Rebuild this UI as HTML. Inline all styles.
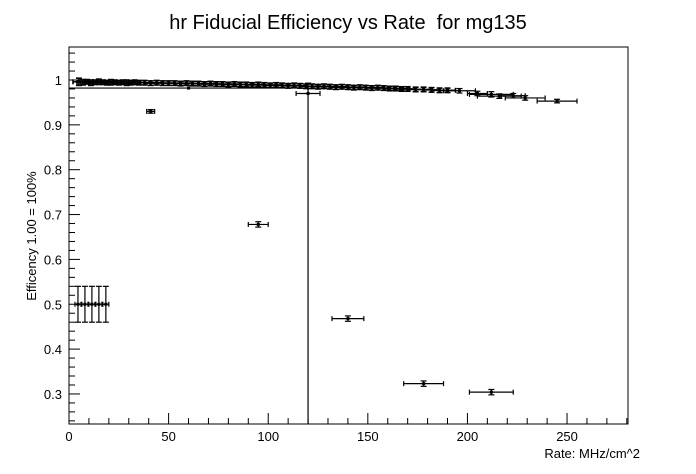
<!DOCTYPE html>
<html><head><meta charset="utf-8"><style>
body{margin:0;background:#fff;}
svg{display:block;font-family:"Liberation Sans",sans-serif;}
</style></head><body>
<svg id="c" width="696" height="474">
<rect x="0" y="0" width="696" height="474" fill="#fff"/>
<text x="348" y="29" text-anchor="middle" font-size="20" xml:space="preserve">hr Fiducial Efficiency vs Rate  for mg135</text>
<text x="640" y="458" text-anchor="end" font-size="13">Rate: MHz/cm^2</text>
<text transform="translate(36,236) rotate(-90)" text-anchor="middle" font-size="13">Efficency 1.00 = 100%</text>
<g id="axes"></g><g id="marks"></g>
</svg>
<script>
const xTicks=[0,50,100,150,200,250];
const yTicks=[0.3,0.4,0.5,0.6,0.7,0.8,0.9,1];
const yTickLabels=["0.3","0.4","0.5","0.6","0.7","0.8","0.9","1"];
const bandX=[5,7,9,11,13,15,17,19,21,23,25,27,29,31,33,35,38,41,44,47,50,53,56,59,62,65,68,71,74,77,80,83,86,89,92,95,98,101,104,107,110,113,116,119,122,125,128,131,134,137,140,143,146,149,152,155,158,161,164,167,170,174,178,182,186,190];
const bandY=[0.996,0.995,0.996,0.994,0.995,0.996,0.995,0.994,0.995,0.995,0.994,0.995,0.994,0.994,0.995,0.994,0.994,0.993,0.994,0.993,0.993,0.993,0.992,0.993,0.992,0.992,0.991,0.992,0.991,0.991,0.990,0.991,0.990,0.990,0.989,0.990,0.989,0.988,0.989,0.988,0.987,0.988,0.987,0.986,0.986,0.985,0.986,0.985,0.984,0.985,0.984,0.983,0.984,0.983,0.982,0.983,0.982,0.981,0.981,0.980,0.980,0.979,0.979,0.978,0.977,0.977];
const bandEx=[3,3,3,3,3,3,3,3,3,3,3,3,3,3,3,3,3,3,3,3,3,3,3,3,3,3,3,3,3,3,3,3,3,3,3,3,3,3,3,3,3,3,3,3,3,3,3,3,3,3,3,3,3,3,3,3,3,3,4,4,4,4,4,4,4,4];
const bandEy=[0.008,0.006,0.005,0.006,0.005,0.006,0.005,0.005,0.006,0.005,0.005,0.005,0.006,0.005,0.005,0.005,0.005,0.005,0.005,0.005,0.005,0.005,0.005,0.005,0.005,0.005,0.005,0.005,0.005,0.005,0.005,0.005,0.005,0.005,0.005,0.005,0.005,0.005,0.005,0.005,0.005,0.005,0.005,0.005,0.005,0.005,0.005,0.005,0.005,0.005,0.005,0.005,0.005,0.005,0.005,0.005,0.005,0.005,0.005,0.005,0.005,0.005,0.005,0.005,0.005,0.005];
const ptX=[196,205,212,216,223,229,245,41,95,120,140,178,212,60,4.5,8,11.5,15,18.5];
const ptY=[0.976,0.970,0.968,0.964,0.965,0.960,0.953,0.930,0.678,0.970,0.468,0.323,0.304,0.982,0.5,0.5,0.5,0.5,0.5];
const ptEx=[8,5,11,11,6,10,10,2,5,6,8,10,11,60,1.5,1.5,1.5,1.5,1.5];
const ptEyHi=[0.005,0.005,0.006,0.005,0.005,0.005,0.004,0.004,0.006,0.023,0.006,0.006,0.006,0,0.04,0.04,0.04,0.04,0.04];
const ptEyLo=[0.005,0.005,0.006,0.005,0.005,0.005,0.004,0.004,0.006,0.74,0.006,0.006,0.006,0,0.04,0.04,0.04,0.04,0.04];

const L=69,R=628,T=47,B=424,XMAX=280.6,YMIN=0.233,YMAX=1.0736;
const sx=v=>L+(v/XMAX)*(R-L);
const sy=v=>B-(v-YMIN)/(YMAX-YMIN)*(B-T);
const NS="http://www.w3.org/2000/svg";
function mk(p,tag,a){const e=document.createElementNS(NS,tag);for(const k in a)e.setAttribute(k,a[k]);p.appendChild(e);return e;}
const axes=document.getElementById('axes'),marks=document.getElementById('marks');
const frame=mk(axes,'rect',{x:L,y:T,width:R-L,height:B-T,fill:'none',stroke:'#000','stroke-width':1});


for(let v=0;v<=XMAX;v+=10){const big=v%50===0;const x=sx(v);
 const t=mk(axes,'line',{x1:x,x2:x,y1:B,y2:B-(big?11:6),stroke:'#000'});
 
 }
xTicks.forEach(v=>{const t=mk(axes,'text',{x:sx(v),y:B+17,'text-anchor':'middle','font-size':13});t.textContent=v;
 
 });
for(let i=3;i<=10;i++){for(let j=0;j<5;j++){const v=i/10+j*0.02;if(v<YMIN||v>YMAX)continue;const y=sy(v);
 const t=mk(axes,'line',{x1:L,x2:L+(j===0?11:6),y1:y,y2:y,stroke:'#000'});
 
 }}
[0.24,0.26,0.28].forEach(v=>{const y=sy(v);const t=mk(axes,'line',{x1:L,x2:L+6,y1:y,y2:y,stroke:'#000'});
 
 });
yTicks.forEach((v,i)=>{const t=mk(axes,'text',{x:L-7,y:sy(v)+5,'text-anchor':'end','font-size':13});t.textContent=yTickLabels[i];
 
 });
function point(x,y,ex,eyHi,eyLo,w){
 const g=mk(marks,'g',{stroke:'#000','stroke-width':w});
 
 
 const cx=sx(x),cy=sy(y),x1=Math.max(L,sx(x-ex)),x2=Math.min(R,sx(x+ex));
 const y1=Math.max(T,sy(y+eyHi)),y2=Math.min(B,sy(y-eyLo));
 mk(g,'line',{x1:x1,x2:x2,y1:cy,y2:cy});
 if(eyHi>0||eyLo>0)mk(g,'line',{x1:cx,x2:cx,y1:y1,y2:y2});
 if(x1>L)mk(g,'line',{x1:x1,x2:x1,y1:cy-2.5,y2:cy+2.5});
 if(x2<R)mk(g,'line',{x1:x2,x2:x2,y1:cy-2.5,y2:cy+2.5});
 if(eyHi>0&&y1>T)mk(g,'line',{x1:cx-3,x2:cx+3,y1:y1,y2:y1});
 if(eyLo>0&&y2<B)mk(g,'line',{x1:cx-3,x2:cx+3,y1:y2,y2:y2});
 mk(g,'rect',{x:cx-1.5,y:cy-1.5,width:3,height:3,fill:'#000',stroke:'none'});
}
bandX.forEach((x,i)=>point(x,bandY[i],bandEx[i],bandEy[i],bandEy[i],1.6));
ptX.forEach((x,i)=>point(x,ptY[i],ptEx[i],ptEyHi[i],ptEyLo[i],1.2));
</script>
</body></html>
